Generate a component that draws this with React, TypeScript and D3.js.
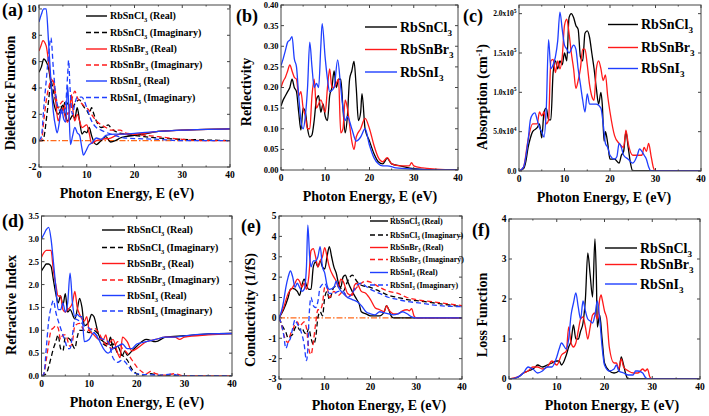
import React from 'react';
import * as d3 from 'd3';

type Pt = [number, number];

// ---------- shared categories ----------
const energyTicks = [0, 10, 20, 30, 40];
const compounds = ['RbSnCl', 'RbSnBr', 'RbSnI'];
const seriesColors = ['#000000', '#ff1a1a', '#1f3fff'];
const xTitle = 'Photon Energy, E (eV)';

// ---------- (a) dielectric function ----------
const aClRe: Pt[] = [[0,5.2],[0.5,5.6],[1,6.2],[1.5,6.0],[2,5.5],[2.5,4.3],[3,3.0],[3.5,2.3],[4,2.0],[4.5,2.3],[5,2.7],[5.5,2.0],[6,1.5],[6.5,1.6],[7,1.9],[7.5,1.7],[8,2.5],[8.5,1.5],[9,0.5],[9.5,0.7],[10,0.6],[10.5,1.0],[11,0.4],[11.5,-0.1],[12,-0.3],[13,0],[14,0.3],[15,-0.1],[16,0.0],[17,0.2],[18,0.3],[20,0.4],[22,0.5],[25,0.7],[30,0.8],[35,0.85],[40,0.9]];
const aBrRe: Pt[] = [[0,6.8],[0.5,7.3],[0.8,7.6],[1.5,7.2],[2,6.0],[2.5,4.7],[3,4.5],[3.5,3.0],[4,1.5],[4.5,2.0],[5,2.5],[5.5,1.8],[6,1.4],[6.5,2.5],[6.8,3.5],[7.2,2.0],[7.5,1.5],[8,2.0],[8.5,1.5],[9,1.0],[10,1.2],[10.5,0.6],[11,-0.2],[12,0],[13,0.1],[15,0.2],[17,0.5],[20,0.5],[25,0.7],[30,0.8],[40,0.9]];
const aIRe: Pt[] = [[0,9.0],[0.5,9.6],[1,10],[1.5,10],[2,7.5],[2.5,4.5],[3,2.2],[3.5,1.0],[3.8,0.6],[4.3,1.5],[4.7,2.4],[5.2,1.6],[5.6,1.4],[6,4.2],[6.3,2.0],[6.6,-0.3],[7,0.3],[7.5,1.0],[8,0.6],[8.5,0.4],[9,-0.6],[9.3,-1.1],[9.8,-0.8],[10.5,-0.3],[11,-0.2],[12,0.2],[13,0.1],[14,0.4],[16,0.5],[18,0.5],[20,0.55],[25,0.7],[30,0.8],[40,0.9]];
const aClIm: Pt[] = [[0,0],[0.8,0],[1.2,0.6],[1.5,1.5],[2,3.0],[2.5,4.5],[3,3.8],[3.5,3.0],[4,2.5],[4.5,2.7],[5,2.3],[5.5,3.0],[6,2.8],[6.5,2.6],[7,2.5],[7.5,2.8],[8.5,3.1],[9,2.8],[9.5,2.5],[10,2.3],[10.5,2.0],[11,2.5],[11.5,2.0],[12,1.5],[13,1.0],[14,1.1],[14.5,1.2],[15,1.0],[16,0.7],[18,0.5],[20,0.4],[22,0.3],[25,0.2],[30,0.1],[35,0.05],[40,0]];
const aBrIm: Pt[] = [[0,0],[0.5,0],[1,1.5],[1.5,3.0],[2,4.0],[2.5,4.5],[3,4.5],[3.5,3.5],[4,2.5],[4.5,2.8],[5,3.0],[5.5,2.5],[6,2.0],[6.5,2.8],[7,3.3],[7.5,3.75],[8,3.3],[8.5,3.0],[9,2.8],[9.5,2.6],[10.5,2.3],[11,2.0],[12,1.5],[13,1.2],[14,1.0],[15,0.8],[16,0.8],[17,0.8],[18,0.6],[20,0.5],[25,0.3],[30,0.1],[35,0],[40,0]];
const aIIm: Pt[] = [[0,0],[0.5,0.3],[1,2.5],[1.5,4.5],[2,6.5],[2.5,7.8],[3,5.5],[3.5,3.5],[4,2.5],[4.5,2.2],[5,2.0],[5.5,2.5],[6,5.0],[6.2,6.1],[6.5,4.0],[7,2.0],[7.5,2.8],[8,3.3],[9,3.3],[9.5,3.0],[10,2.5],[11,1.5],[12,1.0],[13,0.8],[15,0.5],[18,0.2],[25,0.1],[30,0],[40,0]];
const aTicks = [-2, 0, 2, 4, 6, 8, 10];

// ---------- (b) reflectivity ----------
const bCl: Pt[] = [[0,0.155],[0.5,0.17],[1,0.18],[1.5,0.19],[2,0.2],[2.5,0.22],[3,0.2],[3.5,0.19],[4,0.14],[4.5,0.097],[5,0.15],[5.5,0.14],[6,0.1],[6.5,0.08],[7,0.085],[7.5,0.12],[8,0.17],[8.5,0.18],[9,0.14],[9.5,0.16],[10,0.13],[10.5,0.12],[11,0.18],[11.5,0.2],[12,0.24],[12.5,0.2],[13,0.22],[13.5,0.22],[14,0.15],[14.5,0.09],[15,0.13],[15.5,0.22],[16,0.24],[16.5,0.263],[17,0.2],[17.5,0.12],[18,0.14],[18.3,0.185],[19,0.1],[20,0.07],[21,0.04],[22,0.02],[23,0.015],[24,0.028],[25,0.015],[27,0.01],[30,0.003],[35,0],[40,0]];
const bBr: Pt[] = [[0,0.2],[0.5,0.215],[1,0.225],[1.5,0.24],[2,0.255],[2.5,0.24],[3,0.225],[3.5,0.22],[4,0.18],[4.5,0.19],[5,0.15],[5.5,0.13],[6,0.1],[6.5,0.1],[7,0.18],[7.5,0.22],[8,0.15],[8.5,0.16],[9,0.17],[10,0.14],[10.5,0.2],[11,0.245],[11.5,0.2],[12,0.2],[12.5,0.21],[13,0.22],[13.5,0.09],[14,0.1],[14.5,0.17],[15,0.15],[16,0.07],[16.5,0.05],[17,0.08],[18,0.1],[19,0.125],[20,0.1],[21,0.06],[22,0.03],[23,0.02],[24,0.03],[25,0.015],[27,0.01],[29,0.01],[29.5,0.018],[30,0.01],[32,0.005],[35,0.002],[40,0]];
const bI: Pt[] = [[0,0.253],[0.5,0.27],[1,0.29],[1.5,0.31],[2,0.315],[2.5,0.323],[3,0.27],[3.5,0.25],[4,0.18],[4.5,0.12],[5,0.1],[5.5,0.13],[6,0.2],[6.5,0.31],[7,0.25],[7.5,0.2],[8,0.21],[8.5,0.2],[9,0.3],[9.3,0.355],[10,0.27],[10.5,0.22],[11,0.19],[12,0.2],[12.8,0.267],[13.5,0.2],[14,0.15],[14.5,0.12],[15,0.13],[16,0.1],[17,0.07],[18,0.08],[19,0.1],[20,0.06],[21,0.03],[22,0.015],[23,0.01],[24,0.01],[26,0.005],[30,0.002],[35,0],[40,0]];
const bTicks = [0, 0.05, 0.1, 0.15, 0.2, 0.25, 0.3, 0.35, 0.4];

// ---------- (c) absorption (units of 1e5 cm^-1) ----------
const cCl: Pt[] = [[0,0],[1,0.03],[1.5,0.12],[2,0.3],[2.5,0.42],[3,0.5],[4,0.55],[4.5,0.6],[5,0.42],[5.5,0.75],[6,0.8],[6.5,0.65],[7,0.65],[7.5,1.25],[8,1.4],[8.5,1.3],[9,1.4],[9.5,1.35],[10,1.5],[10.5,1.4],[11,1.95],[11.5,2.0],[12,1.95],[12.5,1.85],[13,1.8],[13.5,1.45],[14,1.4],[14.5,1.75],[15,1.78],[15.5,1.7],[16,1.5],[16.5,1.3],[17,1.05],[17.5,0.85],[18,1.0],[18.3,0.85],[18.7,0.38],[19,0.5],[19.5,0.35],[20,0.15],[21,0.15],[22,0.1],[22.5,0.2],[23,0.25],[23.5,0.5],[24,0.3],[24.5,0.1],[25,0],[40,0]];
const cBr: Pt[] = [[0,0],[1,0.05],[2,0.4],[3,0.6],[4,0.6],[4.5,0.75],[5,0.7],[5.5,0.75],[6,0.6],[6.5,0.65],[7,1.4],[7.5,1.42],[8,1.25],[8.5,1.4],[9,1.3],[9.5,1.45],[10,1.85],[10.5,1.93],[11,1.75],[11.5,1.5],[12,1.3],[12.5,1.05],[13,1.15],[13.5,1.3],[14,1.55],[14.5,1.55],[15,1.35],[15.5,1.1],[16,0.95],[16.5,0.9],[17,1.3],[17.5,1.4],[18,1.3],[18.5,1.15],[19,1.22],[19.5,0.95],[20,0.75],[21,0.45],[22,0.35],[23,0.3],[23.5,0.52],[24,0.35],[25,0.2],[26,0.2],[27,0.2],[27.5,0.3],[28,0.25],[28.5,0.35],[29,0.2],[29.5,0.05],[30,0],[40,0]];
const cI: Pt[] = [[0,0],[1,0.05],[2,0.39],[2.5,0.65],[3,0.72],[3.5,0.74],[4,0.65],[4.5,0.55],[5,0.5],[5.5,0.43],[6,0.8],[6.5,1.67],[7,1.3],[7.5,1.35],[8,1.45],[8.5,1.65],[9,2.02],[9.5,1.8],[10,1.6],[10.5,1.55],[11,1.5],[12,1.6],[12.5,1.55],[13,1.3],[13.5,1.1],[14,0.9],[14.5,0.75],[15,0.98],[15.5,0.85],[16,0.85],[17,0.85],[18,0.8],[18.5,0.6],[19,0.35],[19.5,0.3],[20,0.2],[21,0.15],[21.5,0.18],[22,0.35],[22.5,0.3],[23,0.2],[24,0.15],[25,0.1],[26,0.2],[26.5,0.28],[27,0.25],[27.5,0.2],[28,0.15],[28.5,0.05],[29,0],[40,0]];
const cTicks = [0, 0.5, 1.0, 1.5, 2.0];
const cTickMantissa = ['0.0', '5.0x10', '1.0x10', '1.5x10', '2.0x10'];
const cTickExponent = ['', '4', '5', '5', '5'];

// ---------- (d) refractive index ----------
const dClRe: Pt[] = [[0,2.3],[0.5,2.38],[1,2.45],[1.5,2.45],[2,2.4],[2.5,2.1],[3,1.8],[3.5,1.6],[4,1.75],[4.5,1.55],[5,1.8],[5.5,1.4],[6,1.45],[7,1.25],[7.5,1.45],[8,1.7],[8.5,1.5],[9,1.1],[10,1.2],[10.5,1.35],[11,1.3],[12,0.9],[13,0.75],[14,0.7],[14.5,0.85],[15,0.6],[16,0.65],[17,0.45],[17.5,0.55],[18,0.45],[19,0.55],[20,0.65],[22,0.8],[24,0.75],[26,0.85],[30,0.88],[35,0.92],[40,0.93]];
const dBrRe: Pt[] = [[0,2.6],[0.5,2.7],[1,2.75],[2,2.75],[2.5,2.3],[3,2.0],[3.5,1.75],[4,1.75],[4.5,1.45],[5,1.4],[5.5,1.45],[6,1.5],[6.5,1.6],[7,1.85],[7.5,1.5],[8,1.35],[9,1.2],[9.5,1.3],[10,1.0],[11,0.9],[12,0.8],[13,0.8],[13.5,0.9],[14,0.7],[15,0.8],[16,0.5],[16.5,0.4],[17,0.85],[18,0.75],[19,0.55],[20,0.6],[22,0.75],[24,0.8],[26,0.85],[28,0.85],[29,0.8],[30,0.85],[35,0.9],[40,0.93]];
const dIRe: Pt[] = [[0,3.0],[0.5,3.1],[1,3.2],[1.5,3.25],[2,3.0],[2.5,2.5],[3,1.95],[3.5,1.45],[4,1.45],[4.5,1.6],[5,1.4],[5.5,1.6],[6,2.25],[6.5,1.6],[7,1.3],[7.5,1.35],[8,1.3],[8.5,1.3],[9,0.75],[10,0.8],[11,0.95],[12,0.8],[13,0.6],[14,0.5],[15,0.6],[16,0.65],[17,0.7],[18,0.6],[19,0.6],[20,0.7],[22,0.75],[24,0.8],[26,0.85],[28,0.85],[30,0.88],[35,0.92],[40,0.93]];
const dClIm: Pt[] = [[0,0],[1,0.05],[1.5,0.2],[2,0.4],[2.5,0.6],[3,0.75],[3.5,0.9],[4,0.6],[4.5,0.55],[5,0.85],[6,0.8],[7,0.6],[7.5,0.85],[8,1.0],[9,1.0],[10,0.95],[11,1.0],[12,0.9],[13,0.7],[14,0.65],[15,0.7],[16,0.5],[17,0.45],[18,0.35],[19,0.15],[20,0.05],[21,0.02],[23,0.05],[24,0.02],[26,0],[40,0]];
const dBrIm: Pt[] = [[0,0],[0.5,0.05],[1,0.35],[1.5,0.7],[2,1.0],[2.5,1.05],[3,1.1],[3.5,1.05],[4,0.8],[4.5,0.9],[5,0.9],[6,0.65],[6.5,0.75],[7,1.1],[8,1.15],[9,1.0],[10,1.0],[11,1.05],[12,0.95],[13,0.75],[14,0.65],[15,0.6],[16,0.75],[17,0.6],[18,0.5],[19,0.35],[20,0.2],[21,0.1],[22,0.05],[23,0.1],[24,0.05],[26,0.02],[28,0.05],[30,0],[40,0]];
const dIIm: Pt[] = [[0,0],[0.5,0.05],[1,0.6],[1.5,1.2],[2,1.5],[2.5,1.65],[3,1.4],[4,1.05],[5,0.75],[5.5,0.6],[6,0.6],[6.5,0.9],[7,1.25],[8,1.2],[9,1.1],[10,1.05],[11,0.95],[12,0.85],[13,0.8],[14,0.75],[15,0.4],[16,0.3],[17,0.35],[18,0.25],[19,0.1],[20,0.05],[22,0.03],[25,0.02],[27,0.04],[30,0],[40,0]];
const dTicks = [0, 0.5, 1.0, 1.5, 2.0, 2.5, 3.0, 3.5];

// ---------- (e) conductivity ----------
const eClRe: Pt[] = [[0,0],[1,0.4],[2,1.0],[2.5,1.4],[3,1.45],[4,1.3],[4.5,1.1],[5,1.6],[5.5,1.9],[6,1.6],[6.5,1.4],[7,1.4],[7.5,2.5],[8,2.75],[8.5,2.5],[9,2.8],[9.5,2.5],[10,2.4],[10.5,3.0],[11,3.5],[11.5,3.0],[12,2.5],[12.5,2.2],[13,1.7],[13.5,1.5],[14,2.0],[14.5,2.1],[15,1.8],[16,1.3],[17,0.9],[17.5,0.7],[18,0.3],[19,0.2],[20,0.1],[22,0.1],[23,0.3],[23.5,0.6],[24,0.4],[24.5,0.1],[25,0],[40,0]];
const eBrRe: Pt[] = [[0,0],[1,0.5],[2,1.2],[3,1.5],[3.5,1.7],[4,1.9],[4.5,1.8],[5,1.5],[5.5,1.7],[6,1.4],[6.5,2.0],[7,3.3],[7.5,3.4],[8,3.0],[8.5,2.5],[9,2.8],[9.5,3.0],[10,3.45],[10.5,3.0],[11,2.5],[12,2.0],[12.5,1.8],[13,1.5],[13.5,1.9],[14,1.8],[15,1.2],[16,1.1],[16.5,1.6],[17,1.7],[18,1.3],[19,1.2],[20,0.9],[21,0.5],[22,0.4],[23,0.3],[23.5,0.6],[24,0.4],[25,0.2],[26,0.2],[27,0.35],[28,0.4],[28.5,0.35],[29,0.45],[29.5,0.1],[30,0],[40,0]];
const eIRe: Pt[] = [[0,0],[0.5,0.3],[1,0.8],[1.5,1.5],[2,2.0],[2.5,2.3],[3,2.0],[3.5,1.5],[4,1.7],[4.5,1.5],[5,1.3],[5.5,1.4],[6,2.5],[6.3,4.55],[6.7,3.0],[7,2.5],[7.5,2.8],[8,2.8],[8.5,3.0],[9,3.5],[9.5,2.5],[10,2.2],[10.5,1.6],[11,1.4],[12,1.5],[12.5,1.8],[13,1.5],[14,1.2],[15,1.0],[16,0.9],[17,0.8],[18,0.6],[19,0.3],[20,0.2],[21,0.15],[22,0.3],[23,0.25],[24,0.2],[25,0.15],[26,0.2],[27,0.3],[28,0.2],[29,0.05],[30,0],[40,0]];
const eClIm: Pt[] = [[0,0],[1,-0.5],[1.5,-0.7],[2,-1.0],[2.5,-0.9],[3,-0.8],[3.5,-0.5],[4,-0.4],[4.5,-0.6],[5,-0.5],[5.5,-0.7],[6,-0.8],[6.5,-0.5],[7,-1.0],[7.5,-1.3],[8,-1.0],[8.5,0.0],[9,0.3],[9.5,0.1],[10,1.0],[10.5,1.3],[11,0.9],[12,1.5],[13,1.6],[14,1.3],[15,1.8],[16,2.1],[17,1.8],[18,1.6],[20,1.5],[22,1.3],[24,1.1],[26,1.0],[28,0.9],[30,0.85],[35,0.7],[40,0.55]];
const eBrIm: Pt[] = [[0,0],[0.5,-0.3],[1,-0.8],[1.5,-1.1],[2,-1.2],[2.5,-0.8],[3,-0.6],[3.5,-0.3],[4,-0.2],[4.5,-0.4],[5,-0.3],[5.5,-0.2],[6,-0.5],[6.5,-1.5],[7,-1.8],[7.5,-1.2],[8,-0.3],[8.5,0.4],[9,0.4],[9.5,0.7],[10,1.5],[10.5,1.5],[11,1.0],[12,1.3],[13,1.1],[14,1.3],[15,1.0],[16,1.2],[17,1.5],[18,1.7],[19,1.8],[20,1.75],[22,1.5],[24,1.3],[26,1.2],[28,1.0],[30,0.9],[35,0.75],[40,0.6]];
const eIIm: Pt[] = [[0,0],[0.5,-0.3],[1,-0.8],[1.5,-1.5],[2,-1.2],[2.5,-1.0],[3,-0.5],[3.5,-0.1],[4,-0.3],[4.5,-0.5],[5,-0.8],[5.5,-1.3],[6,-2.1],[6.3,-1.5],[6.5,-0.3],[7,1.0],[7.5,0.6],[8,0.5],[8.5,0.8],[9,1.5],[10,1.7],[11,1.2],[12,1.2],[13,1.3],[14,1.3],[15,1.0],[16,1.2],[17,1.6],[18,1.7],[19,1.55],[20,1.4],[22,1.2],[24,1.0],[26,0.9],[28,0.8],[30,0.75],[35,0.6],[40,0.55]];
const eTicks = [-3, -2, -1, 0, 1, 2, 3, 4, 5];

// ---------- (f) loss function ----------
const fCl: Pt[] = [[0,0],[2,0.05],[3,0.15],[4,0.2],[5,0.25],[5.5,0.3],[6,0.35],[7,0.3],[8,0.35],[9,0.4],[10,0.45],[10.5,0.45],[11,0.35],[12,0.6],[12.5,0.8],[13,0.95],[13.5,1.35],[14,1.0],[14.5,1.0],[15,1.2],[15.5,1.4],[16,2.0],[16.5,3.15],[17,2.6],[17.5,2.05],[18,3.5],[18.3,2.5],[18.5,1.3],[19,1.6],[19.5,1.0],[20,0.4],[21,0.2],[22,0.15],[23,0.2],[23.5,0.55],[24,0.35],[24.5,0.1],[25,0],[40,0]];
const fBr: Pt[] = [[0,0],[2,0.06],[3,0.15],[4,0.2],[5,0.3],[6,0.3],[7,0.25],[8,0.3],[9,0.45],[10,0.35],[11,0.6],[12,0.7],[12.5,1.3],[13,0.9],[13.5,0.8],[14,0.9],[14.5,1.2],[15,1.5],[15.5,1.55],[16,1.3],[16.5,1.0],[17,1.3],[17.5,1.6],[18,1.65],[18.5,1.5],[19,2.0],[19.3,2.1],[19.5,2.0],[20,1.7],[20.5,1.5],[21,0.8],[22,0.4],[22.5,0.4],[23,0.25],[23.5,0.5],[24,0.3],[25,0.2],[26,0.15],[27,0.15],[28,0.25],[28.5,0.2],[29,0.25],[29.5,0.05],[30,0],[40,0]];
const fI: Pt[] = [[0,0],[1,0.01],[2,0.06],[3,0.15],[4,0.3],[4.5,0.28],[5,0.25],[6,0.15],[7,0.2],[8,0.3],[9,0.3],[10,0.55],[10.5,0.75],[11,0.9],[12,0.75],[12.5,1.0],[13,1.6],[13.5,1.9],[14,2.15],[14.5,1.8],[15,1.5],[15.5,1.95],[16,1.7],[16.5,1.5],[17,1.45],[17.5,1.4],[18,1.6],[18.5,1.95],[19,1.5],[19.5,0.8],[20,0.35],[21,0.2],[22,0.25],[22.5,0.35],[23,0.2],[24,0.15],[25,0.1],[26,0.1],[26.5,0.2],[27,0.2],[28,0.15],[28.5,0.05],[29,0],[40,0]];
const fTicks = [0, 1, 2, 3, 4];

// ---------- rendering ----------
const FONT = '"Liberation Serif", "Times New Roman", serif';

type Series = { data: Pt[]; color: string; dashed?: boolean };
type LegendRow = { name: string; suffix: string; color: string; dashed?: boolean };

interface PanelProps {
  id: string;
  frame: { l: number; r: number; t: number; b: number };
  yDomain: [number, number];
  yTicks: number[];
  yTickLabel: (v: number, i: number) => React.ReactNode;
  tickFont: number;
  series: Series[];
  zeroLine?: boolean;
  legend: { rows: LegendRow[]; x1: number; x2: number; tx: number; ys: number[]; fs: number };
  label: string;
  labelPos: [number, number];
  titleX: number;
  yTitle: React.ReactNode;
  yTitlePos: [number, number];
}

function Sub3({ fs, suffix }: { fs: number; suffix: string }) {
  const d = fs * 0.28;
  return (
    <>
      <tspan dy={d} fontSize={fs * 0.65}>3</tspan>
      <tspan dy={-d}>{suffix}</tspan>
    </>
  );
}

function Panel(p: PanelProps) {
  const { frame } = p;
  const x = d3.scaleLinear().domain([0, 40]).range([frame.l, frame.r]);
  const y = d3.scaleLinear().domain(p.yDomain).range([frame.b, frame.t]);
  const line = d3
    .line<Pt>()
    .x((d) => x(d[0]))
    .y((d) => y(d[1]))
    .curve(d3.curveMonotoneX);
  const clipId = `clip-${p.id}`;
  const minorX = [5, 15, 25, 35];
  return (
    <g>
      <defs>
        <clipPath id={clipId}>
          <rect x={frame.l} y={frame.t} width={frame.r - frame.l} height={frame.b - frame.t} />
        </clipPath>
      </defs>
      <g clipPath={`url(#${clipId})`}>
        {p.zeroLine && (
          <line x1={x(0)} x2={x(40)} y1={y(0)} y2={y(0)} stroke="#ff6a1a" strokeWidth={1.1} strokeDasharray="6,2,1.5,2" />
        )}
        {p.series.map((s, i) => (
          <path
            key={i}
            d={line(s.data) || ''}
            fill="none"
            stroke={s.color}
            strokeWidth={1.3}
            strokeDasharray={s.dashed ? '5,3' : undefined}
          />
        ))}
      </g>
      <rect x={frame.l} y={frame.t} width={frame.r - frame.l} height={frame.b - frame.t} fill="none" stroke="#444" strokeWidth={1} />
      {energyTicks.map((t) => (
        <g key={`xt${t}`}>
          <line x1={x(t)} x2={x(t)} y1={frame.b} y2={frame.b - 3} stroke="#444" />
          <line x1={x(t)} x2={x(t)} y1={frame.t} y2={frame.t + 3} stroke="#444" />
          <text x={x(t)} y={frame.b + 11} fontSize={9.5} fontFamily={FONT} fontWeight="bold" textAnchor="middle">
            {t}
          </text>
        </g>
      ))}
      {minorX.map((t) => (
        <g key={`xm${t}`}>
          <line x1={x(t)} x2={x(t)} y1={frame.b} y2={frame.b - 1.5} stroke="#444" />
          <line x1={x(t)} x2={x(t)} y1={frame.t} y2={frame.t + 1.5} stroke="#444" />
        </g>
      ))}
      {p.yTicks.map((t, i) => (
        <g key={`yt${t}`}>
          <line x1={frame.l} x2={frame.l + 3} y1={y(t)} y2={y(t)} stroke="#444" />
          <line x1={frame.r} x2={frame.r - 3} y1={y(t)} y2={y(t)} stroke="#444" />
          <text x={frame.l - 2.5} y={y(t) + p.tickFont * 0.35} fontSize={p.tickFont} fontFamily={FONT} fontWeight="bold" textAnchor="end">
            {p.yTickLabel(t, i)}
          </text>
        </g>
      ))}
      <text x={p.titleX} y={frame.b + 31} fontSize={14} fontFamily={FONT} fontWeight="bold" textAnchor="middle">
        {xTitle}
      </text>
      <text
        transform={`translate(${p.yTitlePos[0]},${p.yTitlePos[1]}) rotate(-90)`}
        fontSize={14}
        fontFamily={FONT}
        fontWeight="bold"
        textAnchor="middle"
      >
        {p.yTitle}
      </text>
      <text x={p.labelPos[0]} y={p.labelPos[1]} fontSize={18} fontFamily={FONT} fontWeight="bold">
        {p.label}
      </text>
      {p.legend.rows.map((r, i) => (
        <g key={`lg${i}`}>
          <line
            x1={p.legend.x1}
            x2={p.legend.x2}
            y1={p.legend.ys[i]}
            y2={p.legend.ys[i]}
            stroke={r.color}
            strokeWidth={1.4}
            strokeDasharray={r.dashed ? '5,3' : undefined}
          />
          <text x={p.legend.tx} y={p.legend.ys[i] + p.legend.fs * 0.33} fontSize={p.legend.fs} fontFamily={FONT} fontWeight="bold">
            <tspan>{r.name}</tspan>
            <Sub3 fs={p.legend.fs} suffix={r.suffix} />
          </text>
        </g>
      ))}
    </g>
  );
}

export default function App() {
  const tripleRows: LegendRow[] = compounds.map((n, i) => ({ name: n, suffix: '', color: seriesColors[i] }));
  const sixRows: LegendRow[] = [];
  compounds.forEach((n, i) => {
    sixRows.push({ name: n, suffix: ' (Real)', color: seriesColors[i] });
    sixRows.push({ name: n, suffix: ' (Imaginary)', color: seriesColors[i], dashed: true });
  });
  const fmt1 = d3.format('.1f');
  const fmt2 = d3.format('.2f');
  const intLabel = (v: number) => String(v);

  return (
    <svg width={709} height={416} style={{ position: 'absolute', left: 0, top: 0, background: '#fff' }}>
      <rect width={709} height={416} fill="#fff" />
      <Panel
        id="a"
        frame={{ l: 39, r: 230, t: 5, b: 167 }}
        yDomain={[-2, 10.3]}
        yTicks={aTicks}
        yTickLabel={intLabel}
        tickFont={9.5}
        zeroLine
        series={[
          { data: aClRe, color: seriesColors[0] },
          { data: aClIm, color: seriesColors[0], dashed: true },
          { data: aBrRe, color: seriesColors[1] },
          { data: aBrIm, color: seriesColors[1], dashed: true },
          { data: aIRe, color: seriesColors[2] },
          { data: aIIm, color: seriesColors[2], dashed: true },
        ]}
        legend={{ rows: sixRows, x1: 86, x2: 107, tx: 110, ys: [16, 32.5, 49, 65, 81, 97.5], fs: 10 }}
        label="(a)"
        labelPos={[2, 16]}
        titleX={127}
        yTitle="Dielectric Function"
        yTitlePos={[15, 93]}
      />
      <Panel
        id="b"
        frame={{ l: 281, r: 458, t: 5, b: 170 }}
        yDomain={[0, 0.4]}
        yTicks={bTicks}
        yTickLabel={(v) => fmt2(v)}
        tickFont={8.5}
        series={[
          { data: bCl, color: seriesColors[0] },
          { data: bBr, color: seriesColors[1] },
          { data: bI, color: seriesColors[2] },
        ]}
        legend={{ rows: tripleRows, x1: 365, x2: 397, tx: 400, ys: [27, 49.5, 72], fs: 14 }}
        label="(b)"
        labelPos={[236, 22]}
        titleX={370}
        yTitle="Reflectivity"
        yTitlePos={[251, 92]}
      />
      <Panel
        id="c"
        frame={{ l: 519, r: 701, t: 5, b: 171 }}
        yDomain={[0, 2.11]}
        yTicks={cTicks}
        yTickLabel={(v, i) => (
          <>
            <tspan>{cTickMantissa[i]}</tspan>
            {cTickExponent[i] && (
              <tspan dy={-3.5} fontSize={5.5}>
                {cTickExponent[i]}
              </tspan>
            )}
          </>
        )}
        tickFont={7.5}
        series={[
          { data: cCl, color: seriesColors[0] },
          { data: cBr, color: seriesColors[1] },
          { data: cI, color: seriesColors[2] },
        ]}
        legend={{ rows: tripleRows, x1: 608, x2: 638, tx: 641, ys: [24.5, 47.5, 68.5], fs: 14 }}
        label="(c)"
        labelPos={[463, 22]}
        titleX={604}
        yTitle={
          <>
            <tspan>Absorption (cm</tspan>
            <tspan dy={-5} fontSize={9}>-1</tspan>
            <tspan dy={5}>)</tspan>
          </>
        }
        yTitlePos={[487, 97]}
      />
      <Panel
        id="d"
        frame={{ l: 41.5, r: 232, t: 216, b: 376 }}
        yDomain={[0, 3.5]}
        yTicks={dTicks}
        yTickLabel={(v) => fmt1(v)}
        tickFont={8.5}
        series={[
          { data: dClRe, color: seriesColors[0] },
          { data: dClIm, color: seriesColors[0], dashed: true },
          { data: dBrRe, color: seriesColors[1] },
          { data: dBrIm, color: seriesColors[1], dashed: true },
          { data: dIRe, color: seriesColors[2] },
          { data: dIIm, color: seriesColors[2], dashed: true },
        ]}
        legend={{ rows: sixRows, x1: 102, x2: 125, tx: 127, ys: [230, 247.5, 263.5, 280, 295.5, 311], fs: 10 }}
        label="(d)"
        labelPos={[2, 227]}
        titleX={137}
        yTitle="Refractive Index"
        yTitlePos={[16, 305]}
      />
      <Panel
        id="e"
        frame={{ l: 279, r: 462, t: 216, b: 379 }}
        yDomain={[-3, 5]}
        yTicks={eTicks}
        yTickLabel={intLabel}
        tickFont={9.5}
        zeroLine
        series={[
          { data: eClRe, color: seriesColors[0] },
          { data: eClIm, color: seriesColors[0], dashed: true },
          { data: eBrRe, color: seriesColors[1] },
          { data: eBrIm, color: seriesColors[1], dashed: true },
          { data: eIRe, color: seriesColors[2] },
          { data: eIIm, color: seriesColors[2], dashed: true },
        ]}
        legend={{ rows: sixRows, x1: 370, x2: 388, tx: 390, ys: [221, 235, 247.5, 259.5, 272.5, 285], fs: 8 }}
        label="(e)"
        labelPos={[241, 232]}
        titleX={379}
        yTitle="Conductivity (1/fS)"
        yTitlePos={[255, 310]}
      />
      <Panel
        id="f"
        frame={{ l: 509, r: 700, t: 219, b: 379 }}
        yDomain={[0, 4]}
        yTicks={fTicks}
        yTickLabel={intLabel}
        tickFont={9.5}
        series={[
          { data: fCl, color: seriesColors[0] },
          { data: fBr, color: seriesColors[1] },
          { data: fI, color: seriesColors[2] },
        ]}
        legend={{ rows: tripleRows, x1: 605, x2: 637, tx: 640, ys: [248, 264.5, 284], fs: 14 }}
        label="(f)"
        labelPos={[472, 236]}
        titleX={612}
        yTitle="Loss Function"
        yTitlePos={[487, 315]}
      />
    </svg>
  );
}
